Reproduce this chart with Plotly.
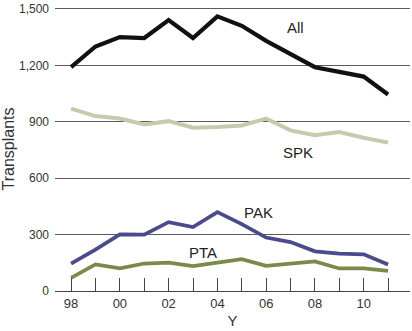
import plotly.graph_objects as go

years = list(range(1998, 2012))
all_tx = [1190, 1300, 1350, 1345, 1440, 1345, 1460, 1410, 1330, 1260, 1190, 1165, 1140, 1045]
spk = [970, 930, 917, 886, 903, 868, 872, 880, 917, 854, 828, 845, 815, 789]
pak = [146, 220, 301, 300, 366, 340, 419, 356, 284, 260, 211, 199, 195, 141]
pta = [70, 141, 120, 146, 151, 132, 151, 169, 134, 146, 157, 120, 120, 107]

xtick_vals = [1998, 2000, 2002, 2004, 2006, 2008, 2010]
xtick_text = ["98", "00", "02", "04", "06", "08", "10"]
ytick_vals = [0, 300, 600, 900, 1200, 1500]
ytick_text = ["0", "300", "600", "900", "1,200", "1,500"]

series = [
    ("All", all_tx, "#111111", 4.2),
    ("SPK", spk, "#c6cbaf", 4),
    ("PAK", pak, "#4b4a8a", 3.7),
    ("PTA", pta, "#7b8a4c", 3.7),
]

fig = go.Figure()
for name, vals, color, w in series:
    fig.add_trace(go.Scatter(x=years, y=vals, mode="lines", name=name,
                             line=dict(color=color, width=w), showlegend=False))

labels = [("All", 2007.2, 1400), ("SPK", 2007.3, 734), ("PAK", 2005.7, 417), ("PTA", 2003.4, 206)]
for text, x, y in labels:
    fig.add_annotation(x=x, y=y, text=text, showarrow=False,
                       font=dict(size=15, color="#222", family="Liberation Sans, Arial"))

fig.update_layout(
    width=412, height=331,
    margin=dict(l=55, r=2, t=5, b=40),
    paper_bgcolor="white", plot_bgcolor="white",
    font=dict(family="Liberation Sans, Arial", color="#333"),
    xaxis=dict(
        range=[1997.34, 2011.9],
        tickmode="array", tickvals=xtick_vals, ticktext=xtick_text,
        ticks="inside", ticklen=13, tickcolor="#444", tickwidth=1,
        minor=dict(dtick=1, tick0=1998, ticks="inside", ticklen=13, tickcolor="#444", tickwidth=1),
        showgrid=False, showline=True, linecolor="#444", linewidth=1,
        tickfont=dict(size=13, color="#333"),
        title=dict(text="Y", font=dict(size=15, color="#333"), standoff=5),
        zeroline=False,
    ),
    yaxis=dict(
        range=[0, 1510],
        tickmode="array", tickvals=ytick_vals, ticktext=ytick_text,
        ticks="", showgrid=True, gridcolor="#5a5a5a", gridwidth=1,
        tickfont=dict(size=12, color="#333"),
        ticklabelstandoff=5, ticklabeloverflow="allow",
        title=dict(text="Transplants", font=dict(size=16, color="#333"), standoff=5),
        zeroline=False, showline=False,
    ),
)

fig.write_html("out.html")
